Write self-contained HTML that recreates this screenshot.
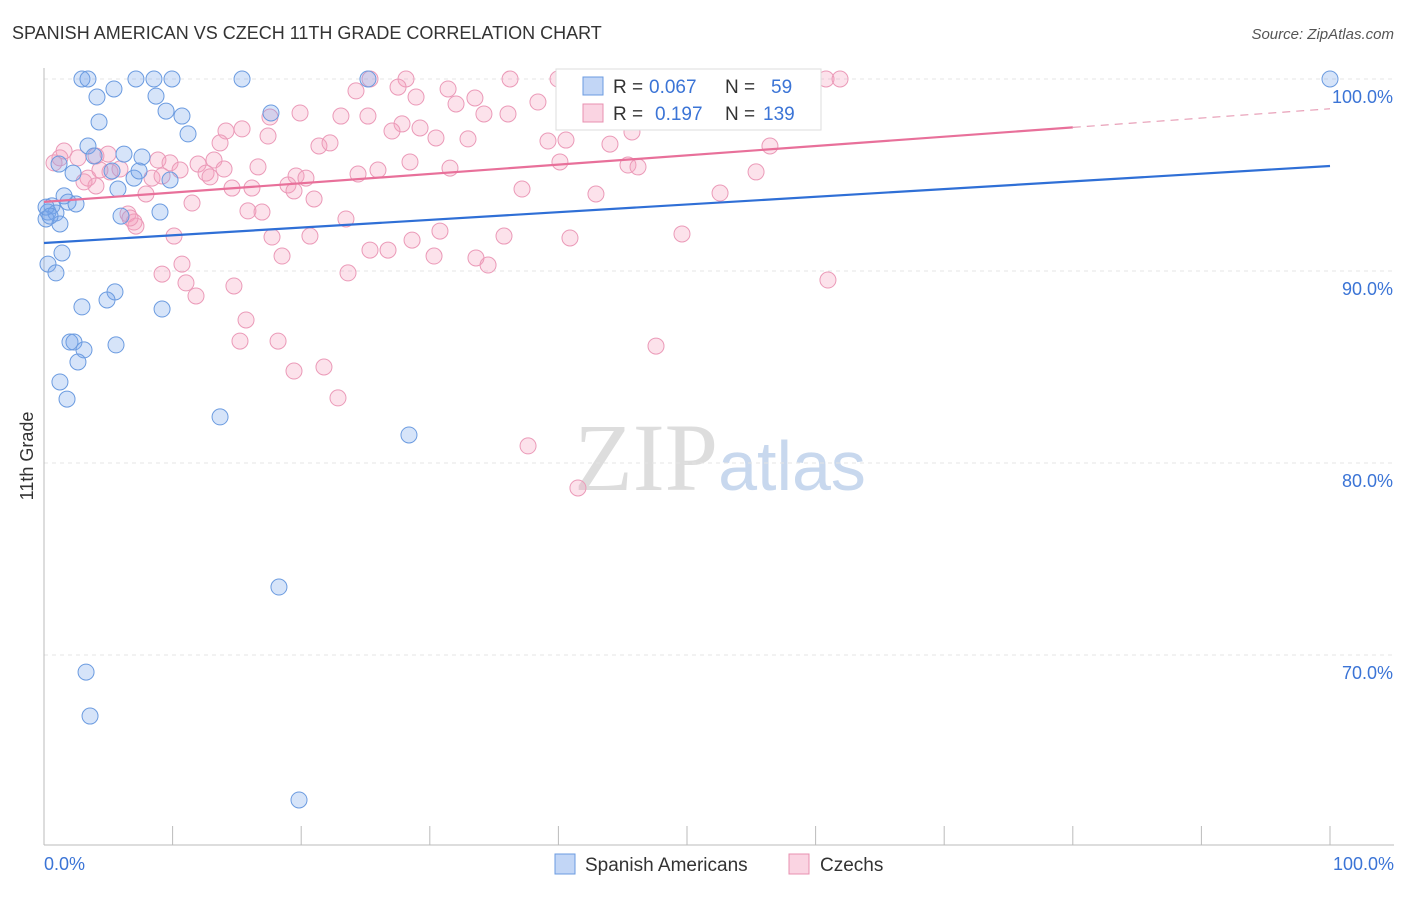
<!DOCTYPE html>
<html><head><meta charset="utf-8"><style>
body{margin:0;background:#fff;font-family:"Liberation Sans",sans-serif;}
</style></head><body>
<svg id="chart" width="1406" height="892" xmlns="http://www.w3.org/2000/svg" font-family="Liberation Sans, sans-serif">
<text x="12" y="39" font-size="18" fill="#333">SPANISH AMERICAN VS CZECH 11TH GRADE CORRELATION CHART</text>
<text x="1394" y="39" font-size="15" fill="#555" text-anchor="end" font-style="italic">Source: ZipAtlas.com</text>
<text x="720" y="490" font-size="96" text-anchor="middle" fill="#ddd" font-family="Liberation Serif, serif">ZIP<tspan fill="#c8d8ee" font-family="Liberation Sans, sans-serif" font-size="70">atlas</tspan></text>
<text transform="translate(33,456) rotate(-90)" font-size="18" fill="#333" text-anchor="middle">11th Grade</text>
<g id="grid"></g>
<g id="marks"></g>
<g id="legend-top">
<rect x="556" y="69" width="265" height="61" fill="#fff" stroke="#ddd"/>
<rect x="583" y="77" width="20" height="18" fill="rgba(120,165,235,0.45)" stroke="#6b9be0"/>
<rect x="583" y="104" width="20" height="18" fill="rgba(245,160,190,0.45)" stroke="#e890b0"/>
<text x="613" y="93" font-size="19" fill="#333">R =</text>
<text x="649" y="93" font-size="19" fill="#3b74d6">0.067</text>
<text x="725" y="93" font-size="19" fill="#333">N =</text>
<text x="771" y="93" font-size="19" fill="#3b74d6">59</text>
<text x="613" y="120" font-size="19" fill="#333">R =</text>
<text x="655" y="120" font-size="19" fill="#3b74d6">0.197</text>
<text x="725" y="120" font-size="19" fill="#333">N =</text>
<text x="763" y="120" font-size="19" fill="#3b74d6">139</text>
</g>
<g>
<rect x="555" y="854" width="20" height="20" fill="rgba(120,165,235,0.45)" stroke="#6b9be0"/>
<text x="585" y="871" font-size="19" fill="#333">Spanish Americans</text>
<rect x="789" y="854" width="20" height="20" fill="rgba(245,160,190,0.45)" stroke="#e890b0"/>
<text x="820" y="871" font-size="19" fill="#333">Czechs</text>
</g>
</svg>
<script>
const yTicks=[100,90,80,70];
const yTickLabels=["100.0%","90.0%","80.0%","70.0%"];
const xTickLabels=["0.0%","100.0%"];
const bluePx=[[82,79],[88,79],[136,79],[154,79],[172,79],[242,79],[368,79],[1330,79],[114,89],[97,97],[156,96],[166,111],[182,116],[271,113],[99,122],[188,134],[88,146],[94,156],[124,154],[142,157],[59,164],[73,173],[112,171],[134,178],[170,180],[118,189],[64,196],[68,202],[76,204],[52,206],[48,212],[56,213],[46,219],[60,224],[121,216],[160,212],[62,253],[48,264],[56,273],[115,292],[107,300],[82,307],[162,309],[70,342],[74,342],[84,350],[116,345],[78,362],[60,382],[67,399],[220,417],[409,435],[279,587],[86,672],[90,716],[299,800],[139,171],[46,207],[50,216]];
const pinkPx=[[370,79],[406,79],[510,79],[558,79],[588,79],[644,79],[662,79],[826,79],[840,79],[356,91],[398,87],[448,89],[416,97],[475,98],[538,102],[300,113],[270,117],[341,116],[368,116],[402,124],[456,104],[484,114],[508,114],[392,131],[420,128],[436,138],[468,139],[548,141],[566,140],[610,144],[632,132],[770,146],[226,131],[242,129],[268,136],[220,143],[319,146],[330,143],[64,151],[96,156],[108,154],[60,158],[54,163],[78,158],[158,160],[170,163],[198,164],[214,160],[258,167],[296,176],[306,178],[358,174],[378,170],[410,162],[450,168],[560,162],[628,165],[638,167],[756,172],[88,178],[96,186],[110,172],[120,169],[152,178],[162,176],[180,170],[206,173],[210,177],[224,169],[232,188],[252,188],[288,185],[294,191],[314,199],[522,189],[596,194],[720,193],[146,194],[192,203],[248,211],[262,212],[346,219],[128,214],[134,222],[136,226],[174,236],[272,237],[310,236],[370,250],[388,250],[412,240],[440,231],[504,236],[570,238],[682,234],[282,256],[434,256],[476,258],[488,265],[182,264],[162,274],[186,283],[196,296],[348,273],[234,286],[828,280],[246,320],[240,341],[278,341],[656,346],[294,371],[324,367],[338,398],[528,446],[578,488],[130,218],[84,182],[100,170]];
const toVal=p=>[+(((p[0]-44)/12.86).toFixed(2)),+((100-(p[1]-79)/19.2).toFixed(2))];
const blueX=bluePx.map(p=>toVal(p)[0]), blueY=bluePx.map(p=>toVal(p)[1]);
const pinkX=pinkPx.map(p=>toVal(p)[0]), pinkY=pinkPx.map(p=>toVal(p)[1]);
const blueTrend=[91.46,95.47];
const pinkTrend=[93.6,98.45];
const NS="http://www.w3.org/2000/svg";
const xs=v=>44+v*12.86, ys=v=>79+(100-v)*19.2;
function mk(t,a,parent){const e=document.createElementNS(NS,t);for(const k in a)e.setAttribute(k,a[k]);parent.appendChild(e);return e;}
const grid=document.getElementById('grid'), marks=document.getElementById('marks');
yTicks.forEach((v,i)=>{
 const l=mk('line',{x1:44,x2:1394,y1:ys(v),y2:ys(v),stroke:'#e4e4e4','stroke-dasharray':'4,4'},grid);
 
 
 const t=mk('text',{x:1393,y:ys(v)+24,'font-size':18,fill:'#3b74d6','text-anchor':'end'},grid);t.textContent=yTickLabels[i];
 
 
});
let ax=mk('line',{x1:44,x2:44,y1:68,y2:845,stroke:'#bbb'},grid);


ax=mk('line',{x1:44,x2:1394,y1:845,y2:845,stroke:'#bbb'},grid);


for(let i=0;i<=10;i++){const t=mk('line',{x1:xs(i*10),x2:xs(i*10),y1:826,y2:845,stroke:'#bbb'},grid);
 
 }
let tl=mk('text',{x:44,y:870,'font-size':18,fill:'#3b74d6'},grid);tl.textContent=xTickLabels[0];


tl=mk('text',{x:1394,y:870,'font-size':18,fill:'#3b74d6','text-anchor':'end'},grid);tl.textContent=xTickLabels[1];


pinkX.forEach((x,i)=>{const c=mk('circle',{cx:xs(x),cy:ys(pinkY[i]),r:8,fill:'rgba(245,160,190,0.3)',stroke:'#eb9ab8','stroke-width':1},marks);
 
 });
bluePx.forEach((p,i)=>{const c=mk('circle',{cx:xs(blueX[i]),cy:ys(blueY[i]),r:8,fill:'rgba(120,165,235,0.3)',stroke:'#6b9be0','stroke-width':1},marks);
 
 });
let tr=mk('line',{x1:xs(0),y1:ys(blueTrend[0]),x2:xs(100),y2:ys(blueTrend[1]),stroke:'#2f6fd6','stroke-width':2.2},marks);


const pAt=x=>pinkTrend[0]+(pinkTrend[1]-pinkTrend[0])*x/100;
tr=mk('line',{x1:xs(0),y1:ys(pAt(0)),x2:xs(80),y2:ys(pAt(80)),stroke:'#e8709a','stroke-width':2.2},marks);


tr=mk('line',{x1:xs(80),y1:ys(pAt(80)),x2:xs(100),y2:ys(pAt(100)),stroke:'#e8a0b8','stroke-width':1.2,'stroke-dasharray':'8,6'},marks);


</script>
</body></html>
